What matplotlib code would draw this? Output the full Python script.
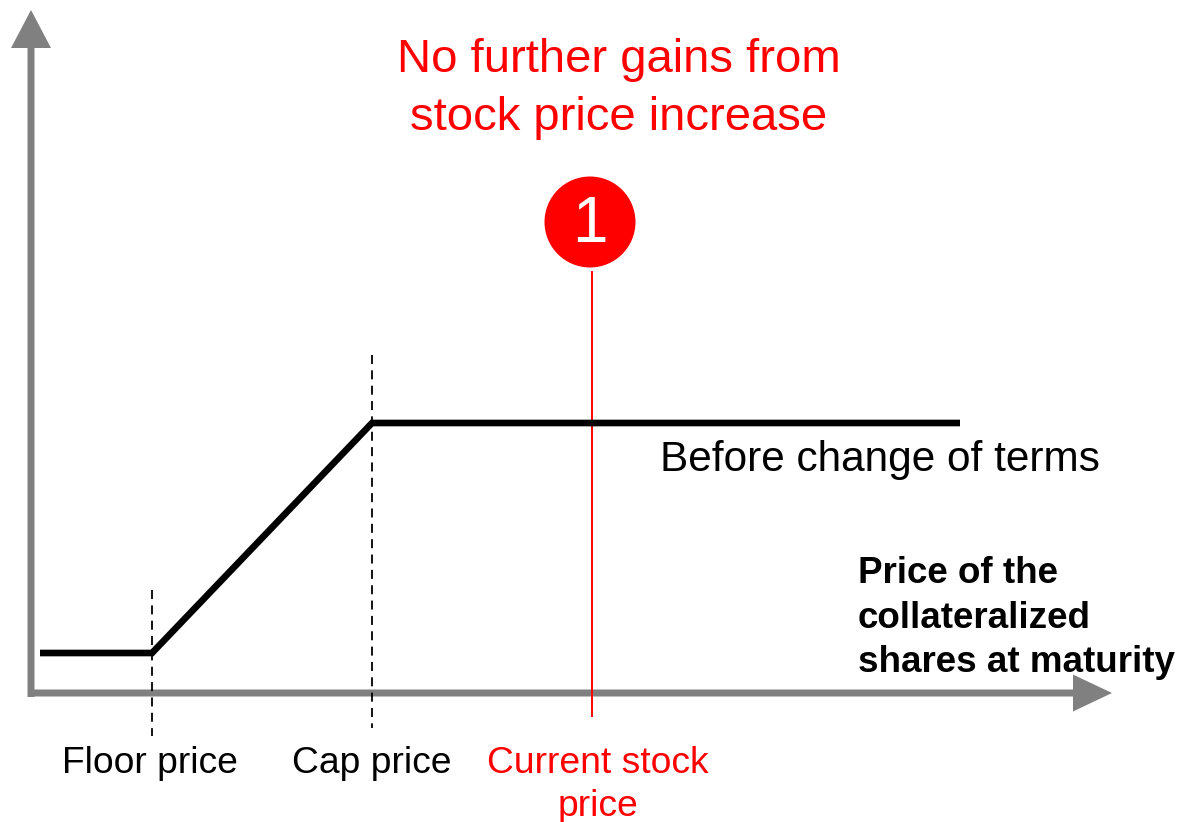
import matplotlib.pyplot as plt
import matplotlib.patches as mpatches

# payoff profile (price on x, payoff on y, in canvas units)
payoff_x = [40, 152, 372, 960]
payoff_y = [653, 653, 423, 423]

floor_price = 152
cap_price = 372
current_price = 592

price_labels = ["Floor price", "Cap price", "Current stock\nprice"]
price_label_x = [150, 372, 598]
price_label_colors = ["black", "black", "red"]

title_text = "No further gains from\nstock price increase"
curve_label = "Before change of terms"
x_axis_label = "Price of the\ncollateralized\nshares at maturity"
marker_text = "1"

RED = "#ff0000"
GREY = "#808080"


def main():
    plt.rcParams["font.family"] = ["Liberation Sans", "DejaVu Sans"]
    fig = plt.figure(figsize=(11.79, 8.22), dpi=100)
    ax = fig.add_axes([0, 0, 1, 1])
    ax.set_xlim(0, 1179)
    ax.set_ylim(822, 0)
    ax.axis("off")

    # axes arrows
    ax.add_patch(mpatches.FancyArrow(31, 697, 0, -687, width=7, head_width=40,
                                     head_length=38, length_includes_head=True,
                                     color=GREY, lw=0))
    ax.add_patch(mpatches.FancyArrow(28, 693, 1084, 0, width=7, head_width=37,
                                     head_length=39, length_includes_head=True,
                                     color=GREY, lw=0))

    # guide lines at floor and cap
    ax.plot([floor_price, floor_price], [590, 736], color="black", lw=1.3,
            dashes=(5, 3.5))
    ax.plot([cap_price, cap_price], [355, 728], color="black", lw=1.3,
            dashes=(5, 3.5))

    # current price marker
    ax.plot([current_price, current_price], [272, 716], color=RED, lw=1.4)

    # payoff curve
    ax.plot(payoff_x, payoff_y, color="black", lw=4.8, solid_joinstyle="miter",
            solid_capstyle="butt")

    ax.add_patch(mpatches.Circle((590, 222), 45.5, color=RED, lw=0))
    ax.text(590, 225, marker_text, color="white", fontsize=46,
            ha="center", va="center")

    ax.text(619, 89, title_text, color=RED, fontsize=34, ha="center",
            va="center", linespacing=1.4)
    ax.text(660, 460, curve_label, color="black", fontsize=30.5, ha="left",
            va="center")
    ax.text(858, 618, x_axis_label, color="black", fontsize=26.5,
            fontweight="bold", ha="left", va="center", linespacing=1.37)

    for lbl, x, c in zip(price_labels, price_label_x, price_label_colors):
        ax.text(x, 746, lbl, color=RED if c == "red" else c, fontsize=26.8,
                ha="center", va="top", linespacing=1.29)

    fig.savefig("out.png", dpi=100)
    plt.close(fig)


main()
